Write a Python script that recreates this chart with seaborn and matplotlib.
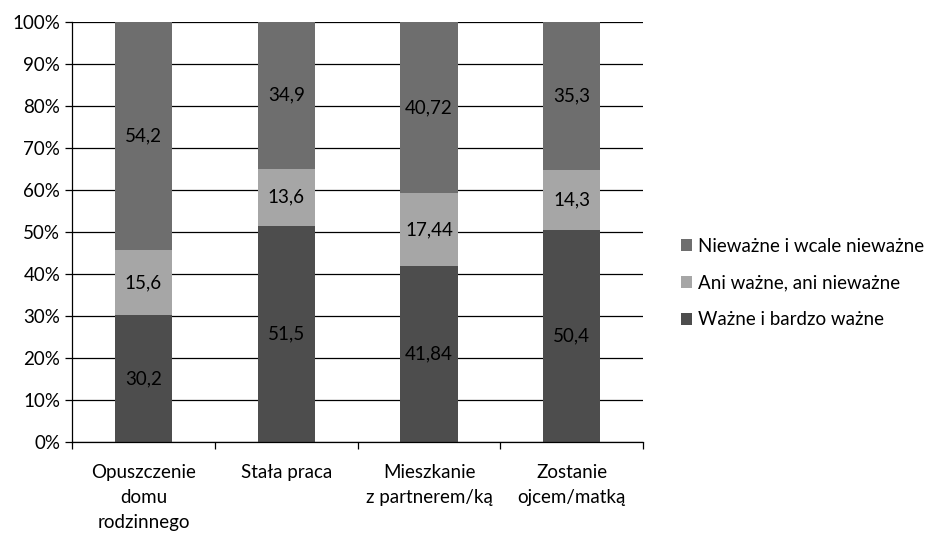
import numpy as np
import pandas as pd
import seaborn as sns
import matplotlib.pyplot as plt
from matplotlib.patches import Patch
from matplotlib.ticker import FixedLocator, PercentFormatter

categories=["Opuszczenie\ndomu\nrodzinnego","Stała praca","Mieszkanie\nz partnerem/ką","Zostanie\nojcem/matką"]
wazne=[30.2,51.5,41.84,50.4]
ani=[15.6,13.6,17.44,14.3]
niewazne=[54.2,34.9,40.72,35.3]
wazne_labels=["30,2","51,5","41,84","50,4"]
ani_labels=["15,6","13,6","17,44","14,3"]
niewazne_labels=["54,2","34,9","40,72","35,3"]
series_names=["Nieważne i wcale nieważne","Ani ważne, ani nieważne","Ważne i bardzo ważne"]
colors=["#6e6e6e","#a6a6a6","#4d4d4d"]

sns.set_style("white")
plt.rcParams['font.family']=['Lato','DejaVu Sans']
fs=13.5
plt.rcParams['font.size']=fs
plt.rcParams['text.color']="black"

df=pd.DataFrame({"cat":categories,"wazne":wazne,"ani":ani,"niewazne":niewazne})
df["c1"]=df["wazne"]
df["c2"]=df["c1"]+df["ani"]
df["c3"]=df["c2"]+df["niewazne"]

fig=plt.figure(figsize=(9.35,5.36),dpi=100)
ax=fig.add_axes([0.077,0.1754,0.611,0.7836])
ax.set_axisbelow(True)
# overlay cumulative totals so the bars look stacked
for col,c in zip(["c3","c2","c1"],colors):
    sns.barplot(data=df,x="cat",y=col,color=c,width=0.4,saturation=1,ax=ax,edgecolor="none",linewidth=0)

for i in range(len(categories)):
    ax.text(i,df["c1"][i]/2,wazne_labels[i],ha="center",va="center",fontsize=fs,color="black")
    ax.text(i,df["c1"][i]+df["ani"][i]/2,ani_labels[i],ha="center",va="center",fontsize=fs,color="black")
    ax.text(i,df["c2"][i]+df["niewazne"][i]/2,niewazne_labels[i],ha="center",va="center",fontsize=fs,color="black")

ax.set_ylim(0,100)
ax.set_xlim(-0.5,len(categories)-0.5)
ax.set_yticks(np.arange(0,101,10))
ax.yaxis.set_major_formatter(PercentFormatter(decimals=0))
ax.yaxis.grid(True,color="black",linewidth=0.9)
ax.xaxis.set_minor_locator(FixedLocator(np.arange(-0.5,len(categories),1)))
ax.tick_params(axis="x",which="major",length=0,pad=16,labelsize=fs,labelcolor="black")
ax.tick_params(axis="x",which="minor",length=5,width=0.9,color="black",direction="out",bottom=True)
ax.tick_params(axis="y",length=5,width=0.9,color="black",direction="out",left=True,labelsize=fs,labelcolor="black")
for lab in ax.get_xticklabels():
    lab.set_linespacing(1.55)
    lab.set_verticalalignment("top")
ax.set_xlabel("")
ax.set_ylabel("")
for s in ["top","right"]:
    ax.spines[s].set_visible(False)
for s in ["left","bottom"]:
    ax.spines[s].set_color("black")
    ax.spines[s].set_linewidth(0.9)

handles=[Patch(facecolor=c,edgecolor="none") for c in colors]
fig.legend(handles,series_names,loc="center left",bbox_to_anchor=(0.71,0.472),frameon=False,
           fontsize=fs,handlelength=0.6,handleheight=0.6,handletextpad=0.3,labelspacing=1.05)

fig.savefig("out.png",dpi=100)
